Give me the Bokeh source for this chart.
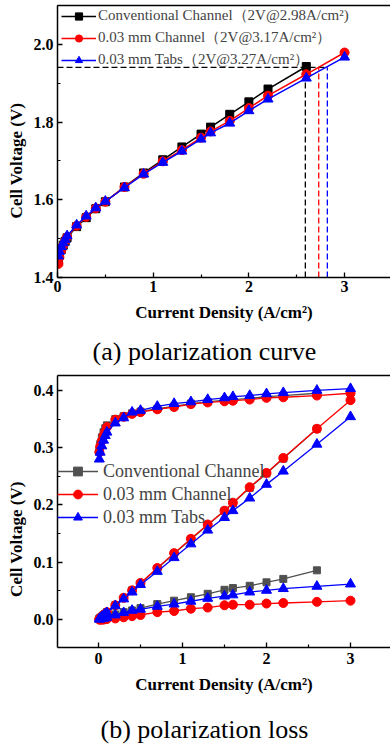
from bokeh.plotting import figure
from bokeh.models import Legend, LegendItem, LinearAxis, FixedTicker, NumeralTickFormatter
from bokeh.layouts import column
from bokeh.embed import file_html
from bokeh.resources import INLINE

# ---------------- data ----------------
current = [0.01, 0.02, 0.04, 0.06, 0.08, 0.1, 0.2, 0.3, 0.4, 0.5, 0.7, 0.9,
           1.1, 1.3, 1.5, 1.6, 1.8, 2.0, 2.2, 2.6, 3.0]
current_conv = current[:-1]

series_names = ["Conventional Channel", "0.03 mm Channel", "0.03 mm Tabs"]
legend_top = ["Conventional Channel（2V@2.98A/cm²)",
              "0.03 mm Channel（2V@3.17A/cm²）",
              "0.03 mm Tabs（2V@3.27A/cm²）"]
captions = ["(a) polarization curve", "(b) polarization loss"]

# (a) polarization curve
v_conv = [1.445, 1.458, 1.472, 1.483, 1.493, 1.502, 1.531, 1.554, 1.577, 1.595, 1.633,
          1.669, 1.703, 1.736, 1.769, 1.787, 1.820, 1.852, 1.885, 1.943]
v_chan = [1.435, 1.452, 1.470, 1.483, 1.494, 1.504, 1.533, 1.556, 1.578, 1.595, 1.633,
          1.667, 1.699, 1.728, 1.760, 1.776, 1.803, 1.836, 1.868, 1.923, 1.979]
v_tabs = [1.455, 1.467, 1.479, 1.489, 1.498, 1.507, 1.535, 1.558, 1.579, 1.596, 1.631,
          1.666, 1.696, 1.725, 1.756, 1.772, 1.797, 1.829, 1.859, 1.913, 1.967]
ref_voltage = 1.941
ref_current = [2.59, 2.73, 2.82]

# (b) polarization loss: activation, ohmic, mass transport
act_conv = [0.295, 0.306, 0.318, 0.327, 0.334, 0.339, 0.350, 0.355, 0.360, 0.363, 0.368,
            0.372, 0.377, 0.380, 0.383, 0.384, 0.386, 0.389, 0.391, 0.395]
act_chan = [0.292, 0.302, 0.312, 0.321, 0.328, 0.336, 0.349, 0.354, 0.359, 0.362, 0.367,
            0.371, 0.376, 0.379, 0.381, 0.382, 0.384, 0.387, 0.388, 0.391, 0.395]
act_tabs = [0.280, 0.292, 0.303, 0.313, 0.321, 0.327, 0.343, 0.352, 0.362, 0.365, 0.372,
            0.377, 0.380, 0.384, 0.387, 0.389, 0.391, 0.394, 0.396, 0.400, 0.403]
ohm_conv = [0.001, 0.003, 0.005, 0.008, 0.010, 0.013, 0.025, 0.038, 0.051, 0.063, 0.089,
            0.115, 0.140, 0.165, 0.190, 0.203, 0.230, 0.255, 0.281, 0.333]
ohm_chan = [0.001, 0.003, 0.005, 0.008, 0.010, 0.013, 0.025, 0.038, 0.051, 0.064, 0.090,
            0.116, 0.141, 0.166, 0.190, 0.204, 0.231, 0.256, 0.282, 0.333, 0.383]
ohm_tabs = [0.001, 0.002, 0.005, 0.007, 0.010, 0.012, 0.024, 0.036, 0.048, 0.061, 0.084,
            0.108, 0.132, 0.156, 0.178, 0.190, 0.212, 0.236, 0.259, 0.306, 0.354]
mass_conv = [0.001, 0.001, 0.002, 0.003, 0.004, 0.005, 0.009, 0.013, 0.016, 0.020, 0.027,
             0.033, 0.039, 0.045, 0.052, 0.055, 0.059, 0.065, 0.071, 0.086]
mass_chan = [0.000, 0.000, 0.000, 0.000, 0.001, 0.001, 0.002, 0.004, 0.006, 0.008, 0.013,
             0.015, 0.019, 0.021, 0.025, 0.026, 0.026, 0.028, 0.029, 0.031, 0.033]
mass_tabs = [0.001, 0.001, 0.002, 0.002, 0.003, 0.004, 0.008, 0.012, 0.016, 0.018, 0.023,
             0.027, 0.032, 0.037, 0.041, 0.043, 0.048, 0.051, 0.054, 0.058, 0.062]

x_ticks = [0, 1, 2, 3]
y1_ticks = [1.4, 1.6, 1.8, 2.0]
y2_ticks = [0.0, 0.1, 0.2, 0.3, 0.4]

FONT = "Liberation Serif"
NB = "\u00a0"


def style_axis(ax, ticks, minor, fmt=None):
    ax.ticker = FixedTicker(ticks=ticks, minor_ticks=minor)
    if fmt:
        ax.formatter = NumeralTickFormatter(format=fmt)
    ax.axis_line_width = 1.5
    ax.axis_line_color = "black"
    ax.major_tick_in = 5
    ax.major_tick_out = 0
    ax.major_tick_line_width = 1.3
    ax.minor_tick_in = 3
    ax.minor_tick_out = 0
    ax.minor_tick_line_width = 1.2
    ax.major_label_text_font = FONT
    ax.major_label_text_font_style = "bold"
    ax.major_label_text_font_size = "16px"
    ax.major_label_text_color = "black"
    ax.major_label_standoff = 4
    ax.axis_label_text_font = FONT
    ax.axis_label_text_font_style = "bold"
    ax.axis_label_text_font_size = "17px"
    ax.axis_label_text_color = "black"
    ax.axis_label_standoff = 5


def add_top_line(p):
    ax = LinearAxis(ticker=FixedTicker(ticks=[]), major_label_text_font_size="0px",
                    axis_line_width=1.5, major_tick_line_color=None,
                    minor_tick_line_color=None, major_label_standoff=0)
    p.add_layout(ax, "above")


def add_caption(p, text, standoff):
    ax = LinearAxis(ticker=FixedTicker(ticks=[]), major_label_text_font_size="0px",
                    axis_line_color=None, major_tick_line_color=None,
                    minor_tick_line_color=None, major_label_standoff=0,
                    axis_label=text + NB * 6, axis_label_standoff=standoff,
                    axis_label_text_font=FONT, axis_label_text_font_size="26px",
                    axis_label_text_font_style="normal", axis_label_text_color="black")
    p.add_layout(ax, "below")


# ---------------- (a) ----------------
p1 = figure(width=390, height=370, x_range=(0, 3.48), y_range=(1.4, 2.1),
            output_backend="svg", toolbar_location=None,
            min_border_left=57, min_border_right=0, min_border_top=5, min_border_bottom=93)
p1.outline_line_color = None
p1.xgrid.visible = False
p1.ygrid.visible = False
xa1 = p1.below[0]
ya1 = p1.left[0]
style_axis(xa1, x_ticks, [0.5, 1.5, 2.5, 3.5])
style_axis(ya1, y1_ticks, [1.5, 1.7, 1.9, 2.1], "0.0")
xa1.axis_label = "Current Density (A/cm²)"
xa1.major_label_standoff = 3
xa1.axis_label_standoff = 8
ya1.axis_label = "Cell Voltage (V)" + NB * 9
add_top_line(p1)
add_caption(p1, captions[0], 12)

# reference dashed lines
p1.line([0, ref_current[2]], [ref_voltage, ref_voltage], line_color="black",
        line_dash="6 3", line_width=1.3)
for xc, col in zip(ref_current, ["black", "red", "blue"]):
    p1.line([xc, xc], [y1_ticks[0], ref_voltage], line_color=col, line_dash="6 3", line_width=1.3)

items1 = []
for xs, ys, col, mk, sz, lab in [
    (current_conv, v_conv, "black", "square", 8, legend_top[0]),
    (current, v_chan, "red", "circle", 9, legend_top[1]),
    (current, v_tabs, "blue", "triangle", 10, legend_top[2]),
]:
    l = p1.line(xs, ys, line_color=col, line_width=1.5)
    s = p1.scatter(xs, ys, marker=mk, size=sz, fill_color=col, line_color=col)
    items1.append(LegendItem(label=lab, renderers=[l, s]))

leg1 = Legend(items=items1, location=(4, 208), padding=2, margin=0, spacing=3,
              glyph_width=35, glyph_height=18, label_height=18, label_standoff=2,
              label_text_font=FONT, label_text_font_size="15px",
              background_fill_alpha=0, border_line_color=None)
p1.add_layout(leg1, "center")

# ---------------- (b) ----------------
p2 = figure(width=390, height=376, x_range=(-0.488, 3.476), y_range=(-0.0487, 0.426),
            output_backend="svg", toolbar_location=None,
            min_border_left=57, min_border_right=0, min_border_top=5, min_border_bottom=98)
p2.outline_line_color = None
p2.xgrid.visible = False
p2.ygrid.visible = False
xa2 = p2.below[0]
ya2 = p2.left[0]
style_axis(xa2, x_ticks, [0.5, 1.5, 2.5, 3.5])
style_axis(ya2, y2_ticks, [0.05, 0.15, 0.25, 0.35], "0.0")
xa2.axis_label = "Current Density (A/cm²)"
xa2.major_label_standoff = 5
xa2.axis_label_standoff = 8
ya2.axis_label = "Cell Voltage (V)" + NB * 13
add_top_line(p2)
add_caption(p2, captions[1], 18)

items2 = []
for xs, curves, col, mk, sz, lab in [
    (current_conv, [act_conv, ohm_conv, mass_conv], "#505050", "square", 7, series_names[0]),
    (current, [act_chan, ohm_chan, mass_chan], "red", "circle", 9, series_names[1]),
    (current, [act_tabs, ohm_tabs, mass_tabs], "blue", "triangle", 10, series_names[2]),
]:
    rends = []
    for ys in curves:
        l = p2.line(xs, ys, line_color=col, line_width=1.3)
        s = p2.scatter(xs, ys, marker=mk, size=sz, fill_color=col, line_color=col)
        if not rends:
            rends = [l, s]
    items2.append(LegendItem(label=lab, renderers=rends))

leg2 = Legend(items=items2, location=(0, 119), padding=0, margin=0, spacing=1,
              glyph_width=41, glyph_height=22, label_height=22, label_standoff=5,
              label_text_font=FONT, label_text_font_size="18px",
              background_fill_alpha=0, border_line_color=None)
p2.add_layout(leg2, "center")

layout = column(p1, p2, spacing=0)
open("out.html", "w").write(file_html(layout, INLINE))
